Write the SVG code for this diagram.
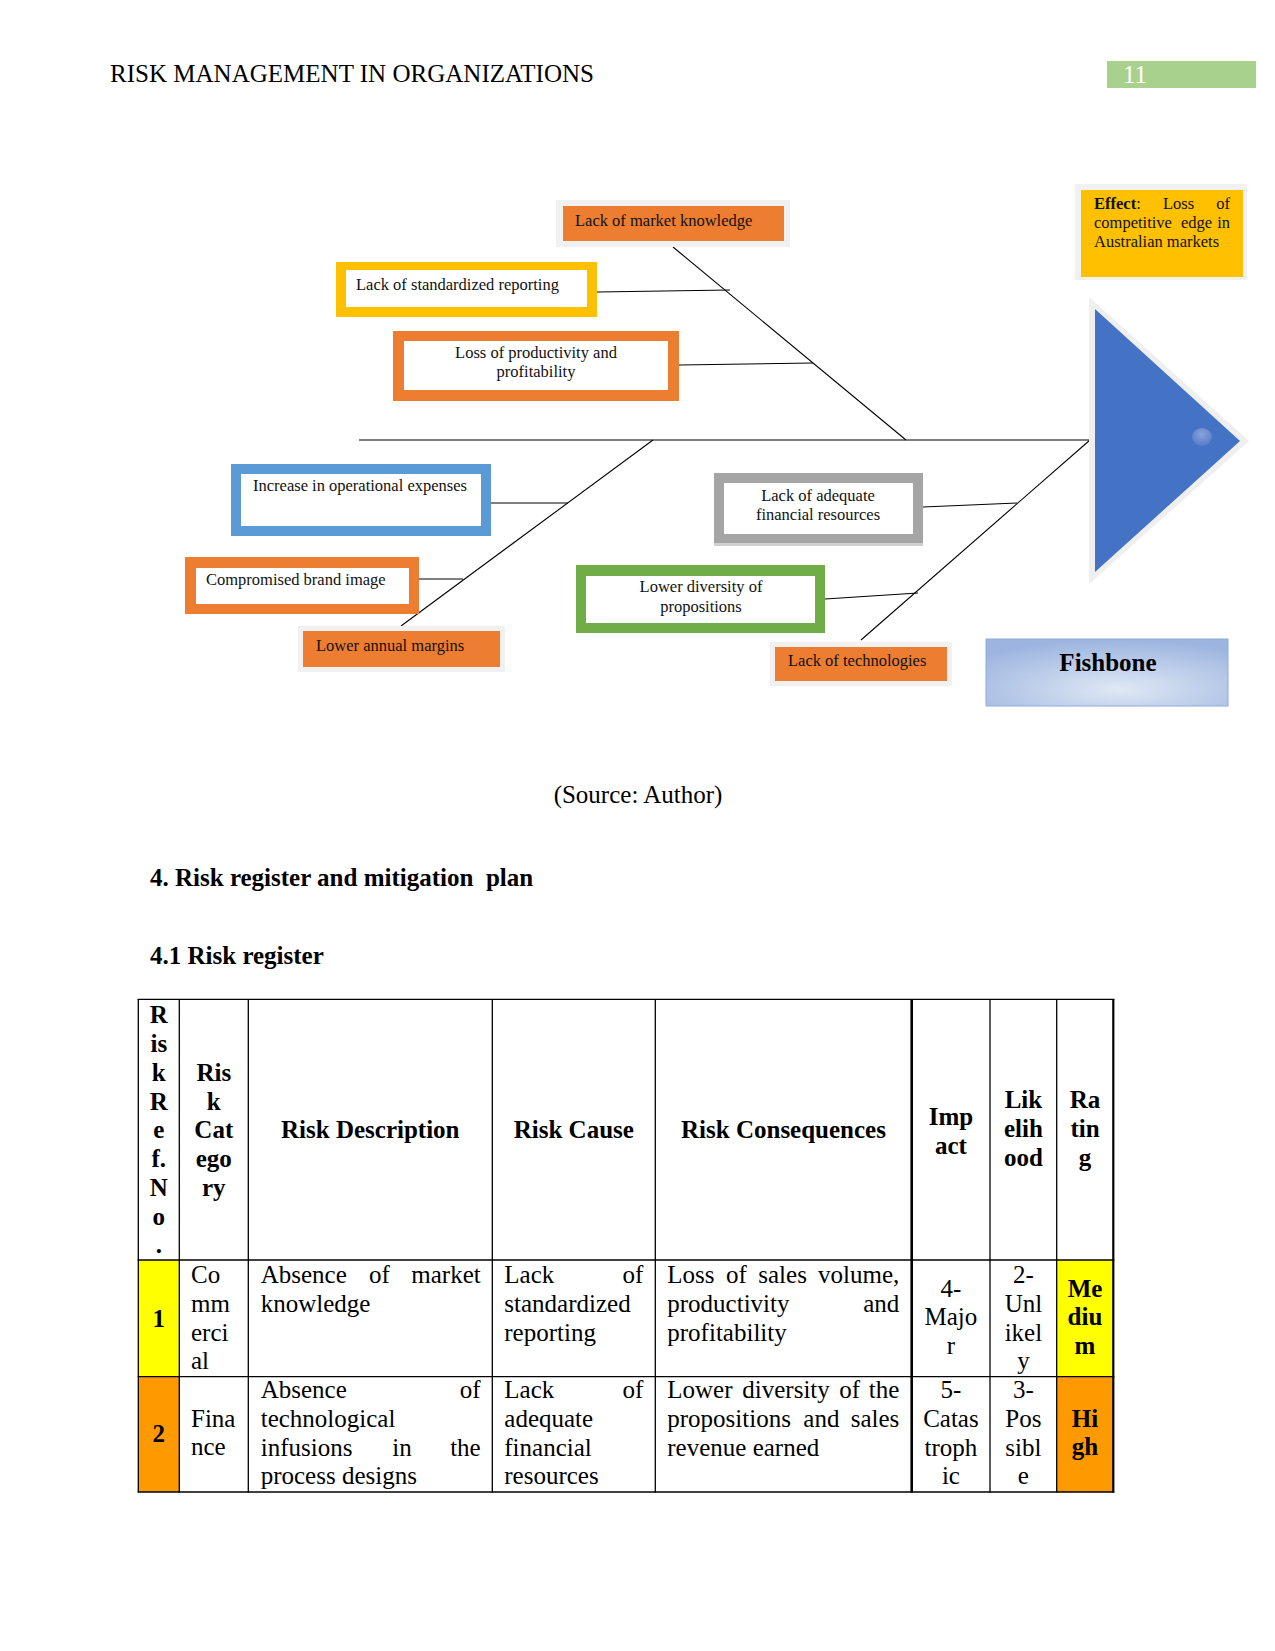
<svg xmlns="http://www.w3.org/2000/svg" width="1275" height="1651" viewBox="0 0 1275 1651">
<defs>
<style>
text{font-family:"Liberation Serif","Times New Roman",serif;fill:#000}
.hd{font-size:25px}
.bx{font-size:16.5px;fill:#111}
.mid{text-anchor:middle}
.end{text-anchor:end}
.b{font-weight:bold}
.t{font-size:25px}
.conn line{stroke:#000;stroke-width:1.1}
.grid line{stroke:#000;stroke-width:1.3}
.glow{fill:#f1f1f1}
.orf{fill:#ed7d31}
.white{fill:#fff}
</style>
<radialGradient id="fbg" cx="0.55" cy="0.75" r="0.75">
<stop offset="0" stop-color="#dfe8f5"/>
<stop offset="1" stop-color="#9cb4df"/>
</radialGradient>
<radialGradient id="dot" cx="0.5" cy="0.35" r="0.6">
<stop offset="0" stop-color="#8aa3dc"/>
<stop offset="1" stop-color="#5a7ecb"/>
</radialGradient>
</defs>
<rect width="1275" height="1651" fill="#fff"/>

<g id="page-header">
<text class="hd" x="110" y="82" textLength="484" lengthAdjust="spacingAndGlyphs">RISK MANAGEMENT IN ORGANIZATIONS</text>
<rect x="1107" y="61" width="149" height="27" fill="#a9d18e"/>
<text class="hd" x="1123" y="83" style="fill:#fff">11</text>
</g>

<g class="conn" id="connectors">
<line x1="359" y1="440" x2="1090" y2="440"/>
<line x1="673" y1="247" x2="906" y2="440"/>
<line x1="597" y1="292" x2="730" y2="290"/>
<line x1="679" y1="365" x2="813" y2="363"/>
<line x1="653" y1="440" x2="401" y2="626"/>
<line x1="491" y1="503" x2="568" y2="503"/>
<line x1="419" y1="579" x2="463" y2="579"/>
<line x1="1090" y1="440" x2="861" y2="640"/>
<line x1="923" y1="507" x2="1017" y2="503"/>
<line x1="825" y1="599" x2="918" y2="593"/>
</g>

<g id="node-market-knowledge">
<rect class="glow" x="556" y="200" width="234" height="47"/>
<rect class="orf" x="563" y="206" width="221" height="35"/>
<text class="bx" x="575" y="226">Lack of market knowledge</text>
</g>

<g id="node-standardized-reporting">
<rect x="336" y="262" width="261" height="55" fill="#ffc000"/>
<rect class="white" x="346" y="270" width="241" height="37"/>
<text class="bx" x="356" y="290">Lack of standardized reporting</text>
</g>

<g id="node-productivity">
<rect class="orf" x="393" y="331" width="286" height="70"/>
<rect class="white" x="404" y="341" width="264" height="49"/>
<text class="bx mid" x="536" y="358">Loss of productivity and</text>
<text class="bx mid" x="536" y="377">profitability</text>
</g>

<g id="node-operational-expenses">
<rect x="231" y="464" width="260" height="72" fill="#5b9bd5"/>
<rect class="white" x="241" y="474" width="240" height="52"/>
<text class="bx" x="253" y="491">Increase in operational expenses</text>
</g>

<g id="node-brand-image">
<rect class="orf" x="185" y="557" width="234" height="57"/>
<rect class="white" x="196" y="568" width="213" height="36"/>
<text class="bx" x="206" y="585">Compromised brand image</text>
</g>

<g id="node-annual-margins">
<rect class="glow" x="298" y="626" width="207" height="46"/>
<rect class="orf" x="303" y="631" width="197" height="36"/>
<text class="bx" x="316" y="651">Lower annual margins</text>
</g>

<g id="node-financial-resources">
<rect x="714" y="473" width="209" height="71" fill="#a5a5a5"/>
<rect x="714" y="543" width="209" height="3" fill="#d0d0d0"/>
<rect class="white" x="724" y="483" width="189" height="51"/>
<text class="bx mid" x="818" y="501">Lack of adequate</text>
<text class="bx mid" x="818" y="519.5">financial resources</text>
</g>

<g id="node-diversity">
<rect x="576" y="565" width="249" height="68" fill="#70ad47"/>
<rect class="white" x="586" y="576" width="229" height="47"/>
<text class="bx mid" x="701" y="592">Lower diversity of</text>
<text class="bx mid" x="701" y="611.5">propositions</text>
</g>

<g id="node-technologies">
<rect class="glow" x="770" y="642" width="182" height="44"/>
<rect class="orf" x="775" y="647" width="172" height="34"/>
<text class="bx" x="788" y="666">Lack of technologies</text>
</g>

<g id="node-effect">
<rect class="glow" x="1075" y="184" width="172" height="96"/>
<rect x="1081" y="190" width="162" height="87" fill="#ffc000"/>
<text class="bx" x="1094" y="209"><tspan style="font-weight:bold">Effect</tspan>:</text>
<text class="bx" x="1163" y="209">Loss</text>
<text class="bx end" x="1230" y="209">of</text>
<text class="bx" x="1094" y="228">competitive</text>
<text class="bx" x="1181" y="228">edge</text>
<text class="bx end" x="1230" y="228">in</text>
<text class="bx" x="1094" y="247">Australian markets</text>
</g>

<g id="node-head">
<polygon points="1089,297 1089,584 1249,441" fill="#efefef"/>
<polygon points="1095,309 1095,572 1240,441" fill="#4472c4"/>
<ellipse cx="1202" cy="437" rx="10" ry="9" fill="url(#dot)"/>
</g>

<g id="node-fishbone-label">
<rect x="986" y="639" width="242" height="67" fill="url(#fbg)" stroke="#8eaadb" stroke-width="1"/>
<text class="t b mid" x="1108" y="671">Fishbone</text>
</g>

<g id="captions">
<text class="t mid" x="638" y="803">(Source: Author)</text>
<text class="t b" x="150" y="886" xml:space="preserve">4. Risk register and mitigation  plan</text>
<text class="t b" x="150" y="964">4.1 Risk register</text>
</g>

<g id="risk-table">
<rect x="138.3" y="1260" width="41" height="116.7" fill="#ffff00"/>
<rect x="1056.7" y="1260" width="56.6" height="116.7" fill="#ffff00"/>
<rect x="138.3" y="1376.7" width="41" height="115.3" fill="#ff9900"/>
<rect x="1056.7" y="1376.7" width="56.6" height="115.3" fill="#ff9900"/>
<g class="grid">
<line x1="137.7" y1="999.3" x2="1114.3" y2="999.3"/>
<line x1="137.7" y1="1260" x2="1114.3" y2="1260"/>
<line x1="137.7" y1="1376.7" x2="1114.3" y2="1376.7"/>
<line x1="137.7" y1="1492" x2="1114.3" y2="1492"/>
<line x1="138.3" y1="999" x2="138.3" y2="1492.5"/>
<line x1="179.3" y1="999" x2="179.3" y2="1492.5"/>
<line x1="248.3" y1="999" x2="248.3" y2="1492.5"/>
<line x1="492.3" y1="999" x2="492.3" y2="1492.5"/>
<line x1="655.3" y1="999" x2="655.3" y2="1492.5"/>
<line x1="911.7" y1="999" x2="911.7" y2="1492.5" style="stroke-width:2.6"/>
<line x1="990" y1="999" x2="990" y2="1492.5"/>
<line x1="1056.7" y1="999" x2="1056.7" y2="1492.5"/>
<line x1="1113.3" y1="999" x2="1113.3" y2="1492.5" style="stroke-width:2.2"/>
</g>

<g id="header-row">
<text class="t b mid" x="158.8" y="1023.3">R</text>
<text class="t b mid" x="158.8" y="1052">is</text>
<text class="t b mid" x="158.8" y="1080.8">k</text>
<text class="t b mid" x="158.8" y="1109.5">R</text>
<text class="t b mid" x="158.8" y="1138.3">e</text>
<text class="t b mid" x="158.8" y="1167">f.</text>
<text class="t b mid" x="158.8" y="1195.8">N</text>
<text class="t b mid" x="158.8" y="1224.5">o</text>
<text class="t b mid" x="158.8" y="1253.3">.</text>

<text class="t b mid" x="213.8" y="1080.8">Ris</text>
<text class="t b mid" x="213.8" y="1109.5">k</text>
<text class="t b mid" x="213.8" y="1138.3">Cat</text>
<text class="t b mid" x="213.8" y="1167">ego</text>
<text class="t b mid" x="213.8" y="1195.8">ry</text>

<text class="t b mid" x="370.3" y="1138.3">Risk Description</text>
<text class="t b mid" x="573.8" y="1138.3">Risk Cause</text>
<text class="t b mid" x="783.5" y="1138.3">Risk Consequences</text>

<text class="t b mid" x="950.9" y="1125">Imp</text>
<text class="t b mid" x="950.9" y="1153.7">act</text>

<text class="t b mid" x="1023.4" y="1108.3">Lik</text>
<text class="t b mid" x="1023.4" y="1137">elih</text>
<text class="t b mid" x="1023.4" y="1165.8">ood</text>

<text class="t b mid" x="1085" y="1108.3">Ra</text>
<text class="t b mid" x="1085" y="1137">tin</text>
<text class="t b mid" x="1085" y="1165.8">g</text>
</g>

<g id="row-1">
<text class="t b mid" x="158.8" y="1326.7">1</text>
<text class="t" x="191" y="1283.3">Co</text>
<text class="t" x="191" y="1312">mm</text>
<text class="t" x="191" y="1340.7">erci</text>
<text class="t" x="191" y="1369.4">al</text>

<text class="t" x="260.7" y="1283.3">Absence</text>
<text class="t" x="369" y="1283.3">of</text>
<text class="t end" x="480.7" y="1283.3">market</text>
<text class="t" x="260.7" y="1312">knowledge</text>

<text class="t" x="504.3" y="1283.3">Lack</text>
<text class="t end" x="643.3" y="1283.3">of</text>
<text class="t" x="504.3" y="1312">standardized</text>
<text class="t" x="504.3" y="1340.7">reporting</text>

<text class="t" x="667.3" y="1283.3">Loss</text>
<text class="t" x="726" y="1283.3">of</text>
<text class="t" x="758.3" y="1283.3">sales</text>
<text class="t end" x="899.3" y="1283.3">volume,</text>
<text class="t" x="667.3" y="1312">productivity</text>
<text class="t end" x="899.3" y="1312">and</text>
<text class="t" x="667.3" y="1340.7">profitability</text>

<text class="t mid" x="950.9" y="1296.7">4-</text>
<text class="t mid" x="950.9" y="1325.4">Majo</text>
<text class="t mid" x="950.9" y="1354.1">r</text>

<text class="t mid" x="1023.4" y="1283.3">2-</text>
<text class="t mid" x="1023.4" y="1312">Unl</text>
<text class="t mid" x="1023.4" y="1340.7">ikel</text>
<text class="t mid" x="1023.4" y="1369.4">y</text>

<text class="t b mid" x="1085" y="1296.7">Me</text>
<text class="t b mid" x="1085" y="1325.4">diu</text>
<text class="t b mid" x="1085" y="1354.1">m</text>
</g>

<g id="row-2">
<text class="t b mid" x="158.8" y="1441.7">2</text>
<text class="t" x="191" y="1426.7">Fina</text>
<text class="t" x="191" y="1455.4">nce</text>

<text class="t" x="260.7" y="1398.3">Absence</text>
<text class="t end" x="480.7" y="1398.3">of</text>
<text class="t" x="260.7" y="1427">technological</text>
<text class="t" x="260.7" y="1455.7">infusions</text>
<text class="t" x="392.3" y="1455.7">in</text>
<text class="t end" x="480.7" y="1455.7">the</text>
<text class="t" x="260.7" y="1484.4">process designs</text>

<text class="t" x="504.3" y="1398.3">Lack</text>
<text class="t end" x="643.3" y="1398.3">of</text>
<text class="t" x="504.3" y="1427">adequate</text>
<text class="t" x="504.3" y="1455.7">financial</text>
<text class="t" x="504.3" y="1484.4">resources</text>

<text class="t" x="667.3" y="1398.3">Lower</text>
<text class="t" x="742.3" y="1398.3">diversity</text>
<text class="t" x="839.3" y="1398.3">of</text>
<text class="t end" x="899.3" y="1398.3">the</text>
<text class="t" x="667.3" y="1427">propositions</text>
<text class="t" x="803.3" y="1427">and</text>
<text class="t end" x="899.3" y="1427">sales</text>
<text class="t" x="667.3" y="1455.7">revenue earned</text>

<text class="t mid" x="950.9" y="1398.3">5-</text>
<text class="t mid" x="950.9" y="1427">Catas</text>
<text class="t mid" x="950.9" y="1455.7">troph</text>
<text class="t mid" x="950.9" y="1484.4">ic</text>

<text class="t mid" x="1023.4" y="1398.3">3-</text>
<text class="t mid" x="1023.4" y="1427">Pos</text>
<text class="t mid" x="1023.4" y="1455.7">sibl</text>
<text class="t mid" x="1023.4" y="1484.4">e</text>

<text class="t b mid" x="1085" y="1426.7">Hi</text>
<text class="t b mid" x="1085" y="1455.4">gh</text>
</g>
</g>
</svg>
